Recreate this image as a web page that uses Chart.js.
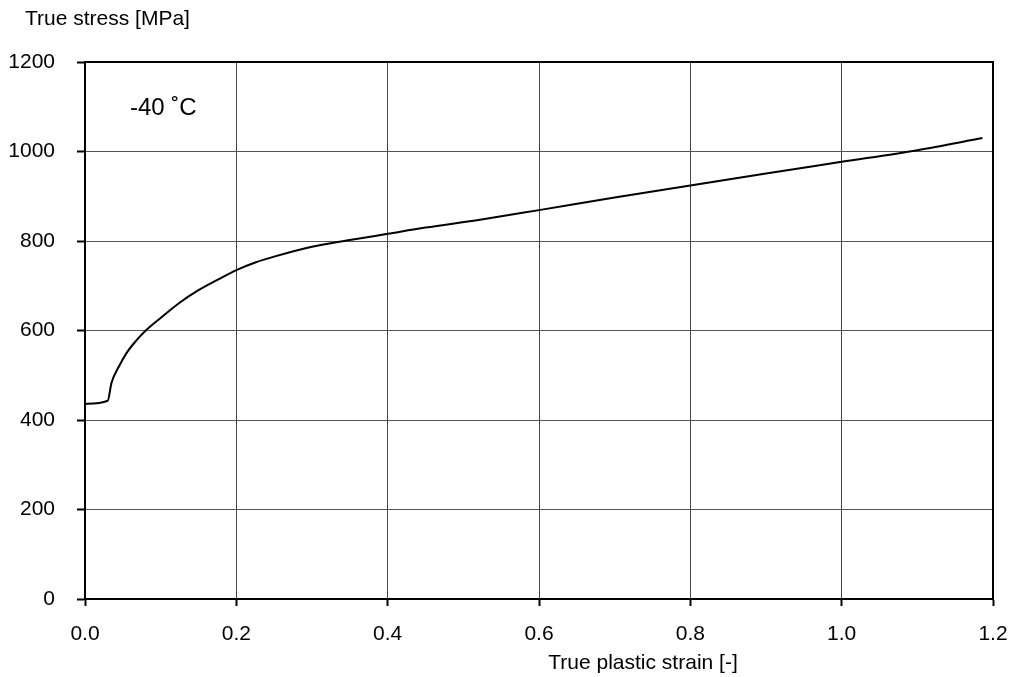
<!DOCTYPE html>
<html>
<head>
<meta charset="utf-8">
<script src="https://cdn.jsdelivr.net/npm/chart.js@4/dist/chart.umd.min.js"></script>
<style>
  html, body { margin: 0; padding: 0; background: #fff; }
  #wrap { width: 1013px; height: 677px; }
</style>
</head>
<body>
<div id="wrap"><canvas id="myChart" width="1013" height="677"></canvas></div>
<script>
// true plastic strain vs true stress at -40 C
const strain = [0, 0.030, 0.035, 0.045, 0.055, 0.068, 0.081, 0.1, 0.125, 0.15, 0.175, 0.2, 0.225, 0.25, 0.3, 0.35, 0.4, 0.45, 0.52, 0.6, 0.7, 0.8, 0.9, 1.0, 1.1, 1.186];
const stress = [436, 443, 483, 520, 550, 578, 601, 628, 662, 690, 713, 735, 752, 765, 787, 802, 816, 830, 847, 869, 897, 924, 951, 977, 1003, 1030];
const xTicks = [0, 0.2, 0.4, 0.6, 0.8, 1.0, 1.2];
const yTicks = [0, 200, 400, 600, 800, 1000, 1200];

const font = { family: "'Liberation Sans', Arial, sans-serif", size: 21 };
Chart.defaults.font.family = font.family;
Chart.defaults.color = "#000";

const points = strain.map((s, i) => ({ x: s, y: stress[i] }));

const textPlugin = {
  id: "texts",
  afterDraw(chart) {
    const { ctx, chartArea: a } = chart;
    ctx.save();
    // frame
    ctx.strokeStyle = "#000";
    ctx.lineWidth = 2;
    ctx.strokeRect(a.left, a.top, a.right - a.left, a.bottom - a.top);
    ctx.fillStyle = "#000";
    ctx.font = "21px " + font.family;
    ctx.textBaseline = "middle";
    ctx.textAlign = "left";
    ctx.fillText("True stress [MPa]", 25, 19);
    ctx.textAlign = "center";
    ctx.fillText("True plastic strain [-]", 643, 663);
    ctx.font = "24px " + font.family;
    ctx.textAlign = "left";
    ctx.fillText("-40 \u02DAC", 130, 108);
    ctx.restore();
  }
};

new Chart(document.getElementById("myChart"), {
  type: "line",
  data: {
    datasets: [{
      data: points,
      borderColor: "#000",
      borderWidth: 2,
      pointRadius: 0,
      cubicInterpolationMode: "monotone",
      fill: false
    }]
  },
  options: {
    responsive: false,
    animation: false,
    layout: { padding: { top: 62, right: 20, left: 0, bottom: 0 } },
    plugins: { legend: { display: false }, tooltip: { enabled: false } },
    scales: {
      x: {
        type: "linear",
        min: 0,
        max: 1.2,
        afterBuildTicks(scale) { scale.ticks = xTicks.map(v => ({ value: v })); },
        afterFit(scale) { scale.height = 78; scale.paddingLeft = 0; scale.paddingRight = 0; },
        ticks: { font, padding: 16, callback: v => v.toFixed(1) },
        grid: { color: "#444", lineWidth: 1, tickLength: 7, tickColor: "#000", tickWidth: 2 },
        border: { color: "#000", width: 2 }
      },
      y: {
        min: 0,
        max: 1200,
        afterBuildTicks(scale) { scale.ticks = yTicks.map(v => ({ value: v })); },
        afterFit(scale) { scale.width = 85; scale.paddingTop = 0; scale.paddingBottom = 0; },
        ticks: { font, padding: 22, callback: v => String(v) },
        grid: { color: "#555", lineWidth: 1, tickLength: 8, tickColor: "#000", tickWidth: 2 },
        border: { color: "#000", width: 2 }
      }
    }
  },
  plugins: [textPlugin]
});
</script>
</body>
</html>
